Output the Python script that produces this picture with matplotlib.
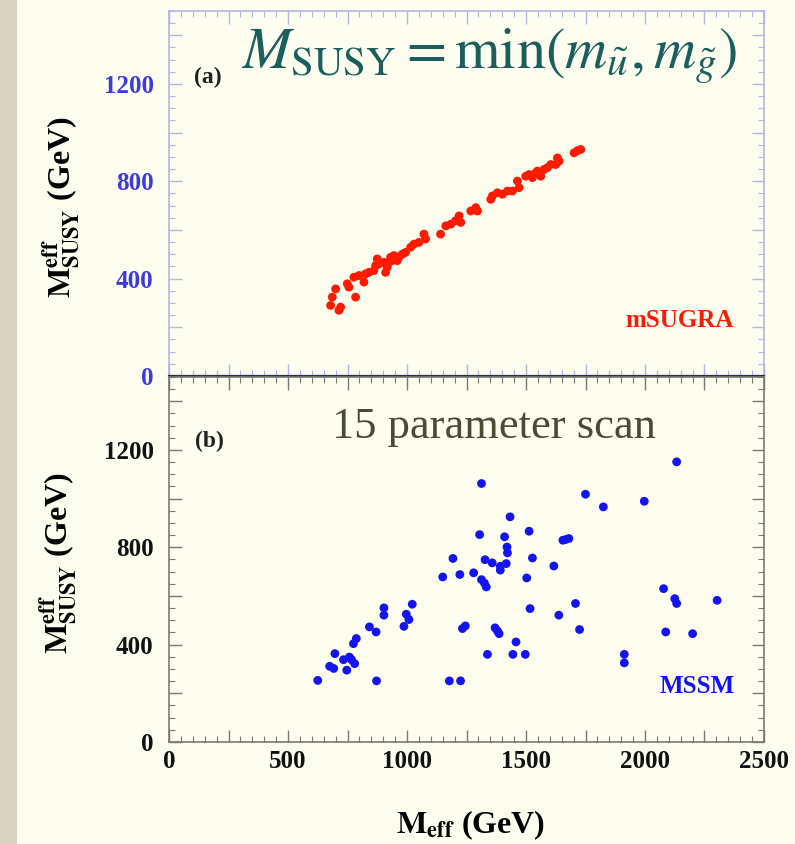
import matplotlib
matplotlib.use('Agg')
import matplotlib.pyplot as plt
from matplotlib.ticker import MultipleLocator, FuncFormatter
from matplotlib.patches import Rectangle

# panel (a): mSUGRA
msugra_meff = [679, 686, 700, 714, 721, 749, 756, 784, 777, 798, 819, 826, 840, 861, 868,
               875, 882, 903, 910, 917, 924, 931, 938, 945, 959, 966, 980, 994, 1015, 1029,
               1050, 1071, 1078, 1141, 1163, 1184, 1204, 1219, 1226, 1268, 1289, 1296, 1352,
               1359, 1380, 1401, 1422, 1443, 1464, 1471, 1499, 1513, 1527, 1541, 1548, 1562,
               1576, 1590, 1604, 1625, 1632, 1639, 1702, 1716, 1730]
msugra_msusy = [290, 324, 358, 270, 283, 379, 365, 324, 406, 413, 386, 420, 426, 433, 454,
                481, 460, 467, 426, 447, 467, 488, 474, 495, 474, 488, 501, 508, 529, 542,
                549, 583, 563, 583, 617, 624, 638, 658, 631, 678, 692, 678, 726, 740, 753,
                747, 760, 760, 801, 774, 821, 828, 815, 835, 842, 821, 849, 856, 869, 869,
                896, 883, 917, 926, 931]

# panel (b): MSSM 15 parameter scan
mssm_meff = [625, 675, 692, 697, 733, 747, 758, 767, 780, 775, 787, 842, 870, 872, 903, 903,
             987, 997, 1008, 1022, 1150, 1178, 1193, 1222, 1225, 1233, 1245, 1280, 1313, 1305,
             1313, 1325, 1333, 1328, 1338, 1358, 1370, 1380, 1387, 1392, 1392, 1410, 1417, 1420,
             1422, 1433, 1445, 1458, 1497, 1503, 1513, 1517, 1527, 1617, 1638, 1655, 1667, 1680,
             1708, 1725, 1750, 1825, 1913, 1913, 1997, 2078, 2087, 2125, 2133, 2133, 2200, 2303]
mssm_msusy = [253, 311, 302, 363, 338, 295, 349, 338, 322, 404, 425, 473, 452, 251, 551, 521,
              475, 525, 503, 566, 678, 251, 754, 688, 251, 466, 477, 695, 1062, 852,
              667, 653, 637, 749, 360, 736, 469, 456, 445, 706, 722, 843, 733, 801,
              777, 925, 360, 411, 360, 674, 866, 548, 756, 723, 521, 829, 832, 836,
              569, 462, 1018, 966, 360, 325, 989, 630, 452, 589, 569, 1151, 445, 582]

bg = '#fefef0'
plt.rcParams['font.family'] = ['Liberation Serif', 'DejaVu Serif']
plt.rcParams['mathtext.fontset'] = 'stix'

fig = plt.figure(figsize=(7.95, 8.44), dpi=100, facecolor=bg)
fig.patches.append(Rectangle((0, 0), 17 / 795, 1, transform=fig.transFigure,
                             facecolor='#d6d4c0', edgecolor='none', zorder=0))

ax1 = fig.add_axes([0.2126, 0.5545, 0.7484, 0.4325], facecolor=bg)
ax2 = fig.add_axes([0.2126, 0.1209, 0.7484, 0.4325], facecolor=bg)


def ylab(v, pos):
    return '%d' % v if v % 400 == 0 else ''


def xlab(v, pos):
    return '%d' % v if v % 500 == 0 else ''


for ax, col, frame in [(ax1, '#3a3ae0', '#b4b4ec'), (ax2, '#111111', '#7a7a70')]:
    ax.set_xlim(0, 2500)
    ax.set_ylim(0, 1500)
    ax.xaxis.set_major_locator(MultipleLocator(250))
    ax.xaxis.set_minor_locator(MultipleLocator(50))
    ax.yaxis.set_major_locator(MultipleLocator(200))
    ax.yaxis.set_minor_locator(MultipleLocator(50))
    ax.yaxis.set_major_formatter(FuncFormatter(ylab))
    ax.xaxis.set_major_formatter(FuncFormatter(xlab))
    ax.tick_params(which='both', direction='in', top=True, right=True, color=frame)
    ax.tick_params(which='major', length=9, width=1)
    ax.tick_params(which='minor', length=4.5, width=0.8)
    ax.tick_params(axis='y', labelsize=18, labelcolor=col, pad=11)
    ax.tick_params(axis='x', labelsize=18, labelcolor='#111111', pad=6)
    for lbl in ax.get_xticklabels() + ax.get_yticklabels():
        lbl.set_fontweight('bold')
    for s in ax.spines.values():
        s.set_color(frame)
        s.set_linewidth(1.2)

ax1.tick_params(axis='x', labelbottom=False)
ax1.spines['bottom'].set_color('#2a2a60')
ax1.spines['bottom'].set_linewidth(1.6)
ax1.spines['bottom'].set_zorder(5)

ax1.scatter(msugra_meff, msugra_msusy, s=40, color='#ff1a00', edgecolors='none')
ax2.scatter(mssm_meff, mssm_msusy, s=40, color='#1414f0', edgecolors='none')

ax1.text(164, 1226, '(a)', fontsize=17, color='#222222', ha='center', va='center',
         fontweight='bold')
ax2.text(168, 1234, '(b)', fontsize=17, color='#222222', ha='center', va='center',
         fontweight='bold')
ax1.text(2147, 229, 'mSUGRA', fontsize=18, color='#ff1a00', ha='center', va='center',
         fontweight='bold')
ax2.text(2218, 229, 'MSSM', fontsize=18, color='#1414f0', ha='center', va='center',
         fontweight='bold')

ax1.text(1345, 1312, r'$M_{\rm SUSY} = \min(m_{\tilde{u}}, m_{\tilde{g}})$',
         fontsize=42, color='#1b5e5e', ha='center', va='center')
ax2.text(1366, 1250, '15 parameter scan', fontsize=32, color='#4b4a35',
         ha='center', va='baseline')

ylabel = r'$\mathbf{M^{eff}_{SUSY}}$ (GeV)'
fig.text(0.077, 0.755, ylabel, rotation=90, fontsize=23, ha='center', va='center',
         fontweight='bold')
fig.text(0.073, 0.333, ylabel, rotation=90, fontsize=23, ha='center', va='center',
         fontweight='bold')
fig.text(0.592, 0.013, r'$\mathbf{M_{eff}}$ (GeV)', fontsize=23, ha='center',
         va='baseline', fontweight='bold')

plt.savefig('out.png', dpi=100, facecolor=bg)
